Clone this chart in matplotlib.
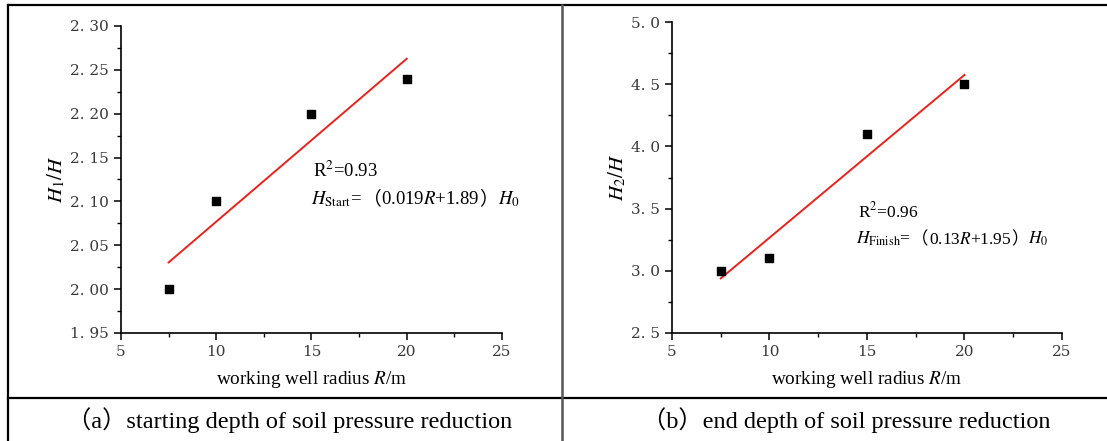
import matplotlib
matplotlib.use("Agg")
import matplotlib.pyplot as plt
import numpy as np
from matplotlib.lines import Line2D
from matplotlib.ticker import MultipleLocator, FuncFormatter
from matplotlib.offsetbox import TextArea, HPacker, AnnotationBbox

plt.rcParams["font.family"] = ["Liberation Serif", "Noto Sans CJK SC"]
plt.rcParams["mathtext.fontset"] = "stix"

# ── Data ──────────────────────────────────────────────────────────────────────
radius = [7.5, 10, 15, 20]
h1_ratio = [2.00, 2.10, 2.20, 2.24]
h2_ratio = [3.00, 3.10, 4.10, 4.50]

captions = ["（a）starting depth of soil pressure reduction",
            "（b）end depth of soil pressure reduction"]
ylabels = [r"$H_{\mathrm{1}}/H$", r"$H_{\mathrm{2}}/H$"]
r2_texts = [r"R$^{2}$=0.93", r"R$^{2}$=0.96"]
# equation pieces: (lhs, inner, rhs), joined by full-width brackets
eq_parts = [(r"$H_{\mathrm{Start}}$=", r"0.019$R$+1.89", r"$H_0$"),
            (r"$H_{\mathrm{Finish}}$=", r"0.13$R$+1.95", r"$H_0$")]

W, H = 1107, 441
fig = plt.figure(figsize=(W / 100, H / 100), dpi=100)
CJK = ["Noto Sans CJK SC"]


def px_axes(x0, y0, x1, y1):
    return fig.add_axes([x0 / W, 1 - y1 / H, (x1 - x0) / W, (y1 - y0) / H])


def fmt_tick(decimals):
    def f(v, pos):
        a, b = f"{v:.{decimals}f}".split(".")
        return f"{a}. {b}"
    return FuncFormatter(f)


def style_axes(ax, ylim, ymaj, ydec):
    ax.set_xlim(5, 25)
    ax.set_ylim(*ylim)
    for s in ("top", "right"):
        ax.spines[s].set_visible(False)
    for s in ("left", "bottom"):
        ax.spines[s].set_linewidth(1.2)
    ax.xaxis.set_major_locator(MultipleLocator(5))
    ax.xaxis.set_minor_locator(MultipleLocator(2.5))
    ax.yaxis.set_major_locator(MultipleLocator(ymaj))
    ax.yaxis.set_minor_locator(MultipleLocator(ymaj / 2))
    ax.yaxis.set_major_formatter(fmt_tick(ydec))
    ax.tick_params(which="major", direction="out", length=5, width=1.1,
                   labelsize=11, labelcolor="#3a3a3a",
                   labelfontfamily="DejaVu Serif")
    ax.tick_params(which="minor", direction="out", length=3, width=1.0)
    ax.set_xlabel(r"working well radius $R$/m", fontsize=13.8, labelpad=7)


def equation(ax, parts, x, y, size):
    lhs, inner, rhs = parts
    tp = dict(fontsize=size)
    cp = dict(fontsize=size, family=CJK)
    kids = [TextArea(lhs, textprops=tp), TextArea("（", textprops=cp),
            TextArea(inner, textprops=tp), TextArea("）", textprops=cp),
            TextArea(rhs, textprops=tp)]
    box = HPacker(children=kids, align="baseline", pad=0, sep=0)
    ab = AnnotationBbox(box, (x, y), xycoords="data", box_alignment=(0, 0.5),
                        frameon=False, pad=0)
    ax.add_artist(ab)


# ── Panel (a) ─────────────────────────────────────────────────────────────────
ax1 = px_axes(121, 26, 502, 333)
style_axes(ax1, (1.95, 2.30), 0.05, 2)
k1, b1 = np.polyfit(radius, h1_ratio, 1)
xs = np.array([radius[0], radius[-1]])
ax1.plot(xs, k1 * xs + b1, color="#e8221e", lw=1.4, zorder=2)
ax1.scatter(radius, h1_ratio, marker="s", s=40, color="black", zorder=3)
ax1.set_ylabel(ylabels[0], fontsize=15, labelpad=2)
ax1.text(15.1, 2.135, r2_texts[0], fontsize=13.5, va="center")
equation(ax1, eq_parts[0], 15.0, 2.103, 13.5)

# ── Panel (b) ─────────────────────────────────────────────────────────────────
ax2 = px_axes(672, 22, 1062, 333)
style_axes(ax2, (2.5, 5.0), 0.5, 1)
k2, b2 = np.polyfit(radius, h2_ratio, 1)
ax2.plot(xs, k2 * xs + b2, color="#e8221e", lw=1.4, zorder=2)
ax2.scatter(radius, h2_ratio, marker="s", s=40, color="black", zorder=3)
ax2.set_ylabel(ylabels[1], fontsize=15, labelpad=2)
ax2.text(14.55, 3.48, r2_texts[1], fontsize=12.5, va="center")
equation(ax2, eq_parts[1], 14.45, 3.255, 12.5)

# ── Table frame + captions ────────────────────────────────────────────────────
def fline(x0, y0, x1, y1, color="black", lw=1.6):
    fig.add_artist(Line2D([x0 / W, x1 / W], [1 - y0 / H, 1 - y1 / H],
                          color=color, lw=lw, transform=fig.transFigure))

fline(8, 5, W, 5)
fline(8, 398, W, 398)
fline(8, 5, 8, H)
fline(562, 5, 562, H, color="#555555", lw=1.8)

fig.text(290 / W, 1 - 420 / H, captions[0], fontsize=17.5, ha="center", va="center")
fig.text(846 / W, 1 - 420 / H, captions[1], fontsize=17.5, ha="center", va="center")

fig.savefig("out.png", dpi=100)
